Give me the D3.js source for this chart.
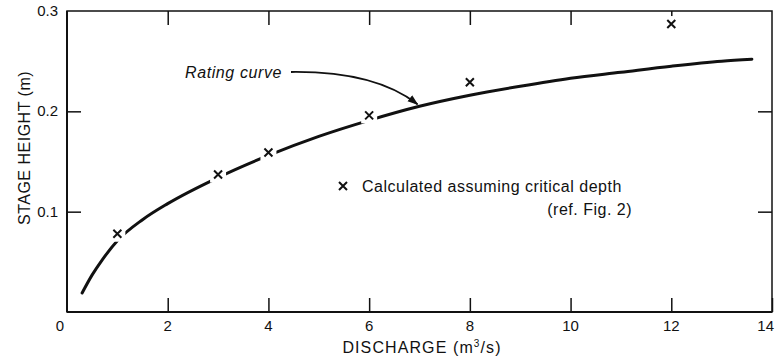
<!DOCTYPE html>
<html>
<head>
<meta charset="utf-8">
<script src="https://cdn.jsdelivr.net/npm/d3@7"></script>
<style>
  body { margin: 0; background: #fff; }
  text { font-family: "Liberation Sans", Arial, sans-serif; fill: #111; }
</style>
</head>
<body>
<div id="chart"></div>
<script>
// rating curve
let curveQ = [0.3, 0.5, 0.7, 1, 1.5, 2, 3, 4, 5, 6, 7, 8, 9, 10, 11, 12, 13, 13.6];
let curveH = [0.019, 0.037, 0.052, 0.071, 0.092, 0.108, 0.134, 0.156, 0.175, 0.191, 0.205, 0.216, 0.225, 0.233, 0.239, 0.245, 0.250, 0.252];

// points calculated assuming critical depth
let pointQ = [1, 3, 4, 6, 8, 12];
let pointH = [0.078, 0.137, 0.159, 0.196, 0.229, 0.287];

let xTicks = [2, 4, 6, 8, 10, 12, 14];
let yTicks = [0.1, 0.2, 0.3];

let w = 775, h = 357;
let m = {top: 11, right: 3, bottom: 45, left: 67};

let svg = d3.select("#chart")
    .append("svg")
    .attr("width", w)
    .attr("height", h);

let x = d3.scaleLinear().domain([0, 14]).range([m.left, w - m.right]);
let y = d3.scaleLinear().domain([0, 0.3]).range([h - m.bottom, m.top]);

// frame
svg.append("rect")
    .attr("x", x(0)).attr("y", y(0.3))
    .attr("width", x(14) - x(0)).attr("height", y(0) - y(0.3))
    .attr("fill", "none").attr("stroke", "#111").attr("stroke-width", 1.5);

// inward ticks
let tickLen = 14;
svg.append("g").attr("transform", `translate(0,${y(0)})`)
    .call(d3.axisTop(x).tickValues(xTicks).tickSize(tickLen).tickFormat(""))
    .call(g => g.select(".domain").remove())
    .selectAll("line").attr("stroke", "#111").attr("stroke-width", 1.5);
svg.append("g").attr("transform", `translate(0,${y(0.3)})`)
    .call(d3.axisBottom(x).tickValues(xTicks.filter(d => d < 14)).tickSize(tickLen).tickFormat(""))
    .call(g => g.select(".domain").remove())
    .selectAll("line").attr("stroke", "#111").attr("stroke-width", 1.5);
svg.append("g").attr("transform", `translate(${x(0)},0)`)
    .call(d3.axisRight(y).tickValues(yTicks.filter(d => d < 0.3)).tickSize(tickLen).tickFormat(""))
    .call(g => g.select(".domain").remove())
    .selectAll("line").attr("stroke", "#111").attr("stroke-width", 1.5);
svg.append("g").attr("transform", `translate(${x(14)},0)`)
    .call(d3.axisLeft(y).tickValues(yTicks.filter(d => d < 0.3)).tickSize(tickLen).tickFormat(""))
    .call(g => g.select(".domain").remove())
    .selectAll("line").attr("stroke", "#111").attr("stroke-width", 1.5);

// thicker left and bottom
svg.append("line").attr("x1", x(0)).attr("x2", x(0)).attr("y1", y(0)).attr("y2", y(0.3))
    .attr("stroke", "#111").attr("stroke-width", 2);
svg.append("line").attr("x1", x(0)).attr("x2", x(14)).attr("y1", y(0)).attr("y2", y(0))
    .attr("stroke", "#111").attr("stroke-width", 2);

// tick labels
svg.append("g").selectAll("text")
    .data(xTicks)
    .enter()
    .append("text")
    .attr("x", d => d == 14 ? w - 1 : x(d))
    .attr("y", y(0) + 19)
    .attr("text-anchor", d => d == 14 ? "end" : "middle")
    .attr("font-size", 15)
    .text(d => d);
svg.append("text")
    .attr("x", x(0) - 7).attr("y", y(0) + 19)
    .attr("text-anchor", "middle").attr("font-size", 15)
    .text("0");
svg.append("g").selectAll("text")
    .data(yTicks)
    .enter()
    .append("text")
    .attr("x", x(0) - 9)
    .attr("y", d => y(d) + 5)
    .attr("text-anchor", "end")
    .attr("font-size", 15)
    .text(d => d);

// axis titles
svg.append("text")
    .attr("x", 422).attr("y", 353)
    .attr("text-anchor", "middle").attr("font-size", 16)
    .attr("letter-spacing", 1.1)
    .html('DISCHARGE (m<tspan dy="-6" font-size="10">3</tspan><tspan dy="6">/s)</tspan>');
svg.append("text")
    .attr("transform", "translate(30,148) rotate(-90)")
    .attr("text-anchor", "middle").attr("font-size", 16)
    .attr("letter-spacing", 0.5)
    .text("STAGE HEIGHT (m)");

// rating curve
let line = d3.line()
    .x(d => x(d[0]))
    .y(d => y(d[1]))
    .curve(d3.curveMonotoneX);
svg.append("path")
    .datum(d3.zip(curveQ, curveH))
    .attr("d", line)
    .attr("fill", "none")
    .attr("stroke", "#111")
    .attr("stroke-width", 3)
    .attr("stroke-linecap", "round");

// x markers with white halo to break the curve
let pts = svg.append("g").selectAll("g")
    .data(d3.zip(pointQ, pointH))
    .enter()
    .append("g")
    .attr("transform", d => `translate(${x(d[0])},${y(d[1])})`);
pts.append("rect")
    .attr("x", -8).attr("y", -8).attr("width", 16).attr("height", 16)
    .attr("fill", "#fff");
pts.append("path")
    .attr("d", "M-4,-4L4,4M-4,4L4,-4")
    .attr("stroke", "#111").attr("stroke-width", 2);

// annotation
svg.append("text")
    .attr("x", 185).attr("y", 78)
    .attr("font-size", 16).attr("font-style", "italic")
    .attr("letter-spacing", 0.6)
    .text("Rating curve");
svg.append("defs").append("marker")
    .attr("id", "arr")
    .attr("viewBox", "0 0 10 10")
    .attr("refX", 9).attr("refY", 5)
    .attr("markerWidth", 6).attr("markerHeight", 6)
    .attr("orient", "auto")
    .append("path")
    .attr("d", "M0,1.5L10,5L0,8.5Z")
    .attr("fill", "#111");
svg.append("path")
    .attr("d", `M291,72 Q375,71 ${x(7) - 2},${y(0.205) - 2}`)
    .attr("fill", "none")
    .attr("stroke", "#111")
    .attr("stroke-width", 1.8)
    .attr("marker-end", "url(#arr)");

// legend
svg.append("path")
    .attr("d", "M339,182L347,190M339,190L347,182")
    .attr("stroke", "#111").attr("stroke-width", 2);
svg.append("text")
    .attr("x", 362).attr("y", 192)
    .attr("font-size", 16)
    .attr("letter-spacing", 0.5)
    .text("Calculated assuming critical depth");
svg.append("text")
    .attr("x", 632).attr("y", 215)
    .attr("text-anchor", "end")
    .attr("font-size", 16)
    .attr("letter-spacing", 0.5)
    .text("(ref. Fig. 2)");
</script>
</body>
</html>
